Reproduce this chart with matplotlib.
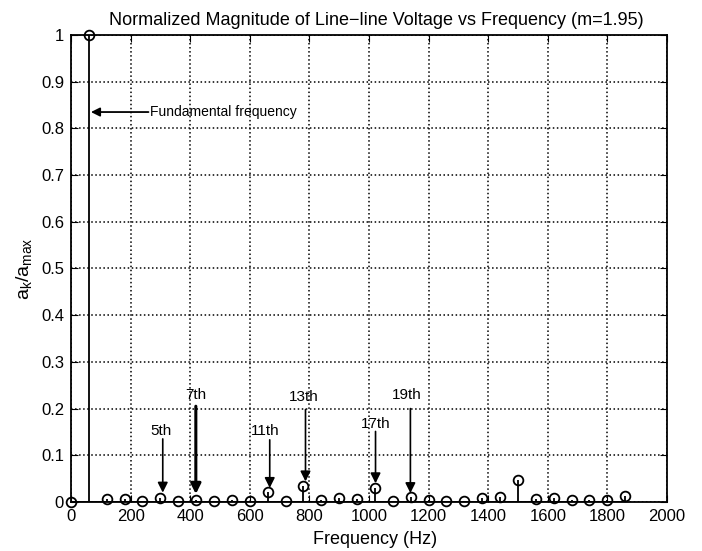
import matplotlib
matplotlib.use("Agg")
import matplotlib.pyplot as plt
import numpy as np

plt.rcParams['font.family'] = ['Liberation Sans', 'DejaVu Sans']

freqs = list(range(0, 1861, 60))
mags = [0.0, 1.0, 0.007, 0.006, 0.003, 0.009, 0.003, 0.005, 0.001, 0.004,
        0.001, 0.022, 0.003, 0.034, 0.004, 0.009, 0.007, 0.030, 0.003, 0.011,
        0.004, 0.003, 0.003, 0.008, 0.010, 0.047, 0.007, 0.008, 0.004, 0.004,
        0.004, 0.012]

# harmonic annotations
harm_labels = ["5th", "7th", "11th", "13th", "17th", "19th"]
harm_text_x = [301, 420, 653, 781, 1022, 1126]
harm_arrow_x = [308, 419, 667, 787, 1022, 1139]
harm_text_y = [0.152, 0.23, 0.152, 0.225, 0.168, 0.228]
harm_tail_y = [0.135, 0.205, 0.133, 0.198, 0.151, 0.20]
harm_head_y = [0.02, 0.017, 0.03, 0.044, 0.04, 0.019]
harm_lw = [1.2, 2.2, 1.2, 1.2, 1.2, 1.2]

fig = plt.figure(figsize=(7.02, 5.51), dpi=100)
ax = fig.add_axes([0.1011, 0.089, 0.8490, 0.8475])

ml, sl, bl = ax.stem(freqs, mags, linefmt='k-', markerfmt='ko', basefmt='k-')
ml.set_markerfacecolor('none')
ml.set_markersize(7)
ml.set_markeredgewidth(1.3)
ml.set_clip_on(False)
ml.set_zorder(5)
sl.set_linewidth(1.3)
bl.set_linewidth(1.3)

ax.set_xlim(0, 2000)
ax.set_ylim(0, 1)
ax.set_xticks(np.arange(0, 2001, 200))
ax.set_yticks(np.arange(0, 1.01, 0.1))
ax.set_yticklabels(['0', '0.1', '0.2', '0.3', '0.4', '0.5', '0.6', '0.7', '0.8', '0.9', '1'])
ax.grid(True, linestyle=':', color='black', linewidth=1.1)
ax.tick_params(direction='in', top=True, right=True, labelsize=12, length=5, pad=5)
for s in ax.spines.values():
    s.set_linewidth(1.3)

ax.set_title("Normalized Magnitude of Line\u2212line Voltage vs Frequency (m=1.95)",
             fontsize=13, pad=7, x=0.512)
ax.set_xlabel("Frequency (Hz)", fontsize=13, labelpad=5, x=0.51)
ax.set_ylabel(r"$\mathregular{a_k/a_{max}}$", fontsize=14, labelpad=5)

for lab, tx, x, ty, t0, t1, lw in zip(harm_labels, harm_text_x, harm_arrow_x, harm_text_y,
                                      harm_tail_y, harm_head_y, harm_lw):
    ax.annotate("", xy=(x, t1), xytext=(x, t0),
                arrowprops=dict(arrowstyle='-|>', color='black', lw=lw, mutation_scale=15,
                                shrinkA=0, shrinkB=0))
    ax.text(tx, ty, lab, ha='center', va='center', fontsize=11)

ax.annotate("", xy=(67, 0.835), xytext=(260, 0.835),
            arrowprops=dict(arrowstyle='-|>', color='black', lw=1.3, mutation_scale=13,
                            shrinkA=0, shrinkB=0))
ax.text(265, 0.835, "Fundamental frequency", ha='left', va='center', fontsize=10)

fig.savefig("out.png", dpi=100)
